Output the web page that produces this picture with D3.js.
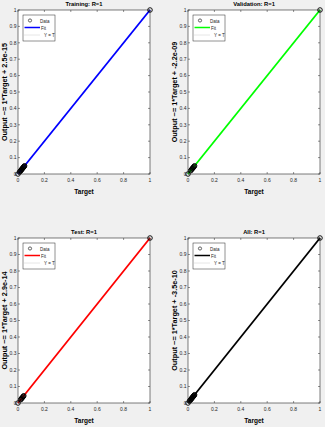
<!DOCTYPE html>
<html>
<head>
<meta charset="utf-8">
<script src="https://cdn.jsdelivr.net/npm/d3@7"></script>
<style>
body { margin: 0; background: #f0f0f0; }
svg { display: block; font-family: "Liberation Sans", Arial, sans-serif; }
</style>
</head>
<body>
<svg id="chart1" width="325" height="427"></svg>
<script>
// panel titles, fit colours and fit equations
var titles = ["Training: R=1", "Validation: R=1", "Test: R=1", "All: R=1"];
var fitColors = ["#0000ff", "#00ff00", "#ff0000", "#000000"];
var offsets = ["2.5e-15", "-2.2e-09", "2.9e-14", "-3.5e-10"];
var slopes = [1, 1, 1, 1];
var ticks = [0, 0.1, 0.2, 0.3, 0.4, 0.5, 0.6, 0.7, 0.8, 0.9, 1];
var xTicks = [0, 0.2, 0.4, 0.6, 0.8, 1];

// targets / outputs (R=1, so outputs follow targets)
var trainTargets = [0, 0.012, 0.016, 0.02, 0.023, 0.026, 0.029, 0.032, 0.035, 0.038, 0.041, 0.044, 0.047, 0.05, 1];
var valTargets = [0, 0.02, 0.025, 0.03, 0.034, 0.038, 0.042, 0.046, 0.05, 1];
var testTargets = [0, 0.02, 0.024, 0.028, 0.032, 0.036, 0.04, 0.044, 1];
var allTargets = [0, 0.012, 0.016, 0.02, 0.023, 0.026, 0.029, 0.032, 0.035, 0.038, 0.041, 0.044, 0.047, 0.05, 1];
var targetSets = [trainTargets, valTargets, testTargets, allTargets];

var svg = d3.select('#chart1');

var panels = [
	{x: 18, y: 10, w: 132, h: 164, lx: 7},
	{x: 188, y: 10, w: 132, h: 164, lx: 176.5},
	{x: 18, y: 238, w: 132, h: 165, lx: 7},
	{x: 188, y: 238, w: 132, h: 165, lx: 176.5}
];

panels.forEach(function (p, k) {
	var g = svg.append("g").attr("transform", "translate(" + p.x + "," + p.y + ")");
	var x = d3.scaleLinear().domain([0, 1]).range([0, p.w]);
	var y = d3.scaleLinear().domain([0, 1]).range([p.h, 0]);

	g.append("rect")
		.attr("width", p.w).attr("height", p.h)
		.style("fill", "white");

	// ticks (inside, all four sides)
	var tl = 2;
	xTicks.forEach(function (t) {
		g.append("line").attr("x1", x(t)).attr("x2", x(t)).attr("y1", p.h).attr("y2", p.h - tl).style("stroke", "#262626").style("stroke-width", 0.5);
		g.append("line").attr("x1", x(t)).attr("x2", x(t)).attr("y1", 0).attr("y2", tl).style("stroke", "#262626").style("stroke-width", 0.5);
		g.append("text").attr("x", x(t)).attr("y", p.h + 7.5)
			.attr("text-anchor", "middle").attr("font-size", "5px").attr("fill", "#262626")
			.text(d3.format("~g")(t));
	});
	ticks.forEach(function (t) {
		g.append("line").attr("y1", y(t)).attr("y2", y(t)).attr("x1", 0).attr("x2", tl).style("stroke", "#262626").style("stroke-width", 0.5);
		g.append("line").attr("y1", y(t)).attr("y2", y(t)).attr("x1", p.w).attr("x2", p.w - tl).style("stroke", "#262626").style("stroke-width", 0.5);
		g.append("text").attr("x", -1.5).attr("y", y(t) + 1.8)
			.attr("text-anchor", "end").attr("font-size", "5px").attr("fill", "#262626")
			.text(d3.format("~g")(t));
	});

	// Y = T dotted
	g.append("line")
		.attr("x1", x(0)).attr("y1", y(0)).attr("x2", x(1)).attr("y2", y(1))
		.style("stroke", "#999").style("stroke-width", 0.6).style("stroke-dasharray", "1,1");

	// fit line
	var off = +offsets[k];
	g.append("line")
		.attr("x1", x(0)).attr("y1", y(slopes[k] * 0 + off))
		.attr("x2", x(1)).attr("y2", y(slopes[k] * 1 + off))
		.style("stroke", fitColors[k]).style("stroke-width", 1.8);

	// data
	g.selectAll("circle.d")
		.data(targetSets[k])
		.enter().append("circle")
		.attr("cx", function (d) { return x(d); })
		.attr("cy", function (d) { return y(d); })
		.attr("r", 2.3)
		.style("fill", "none").style("stroke", "black").style("stroke-width", 0.9);

	// box
	g.append("rect")
		.attr("width", p.w).attr("height", p.h)
		.style("fill", "none").style("stroke", "#262626").style("stroke-width", 0.6);

	// legend
	var lg = g.append("g").attr("transform", "translate(5,5)");
	lg.append("rect").attr("width", 32).attr("height", 26)
		.style("fill", "white").style("stroke", "#262626").style("stroke-width", 0.5);
	lg.append("circle").attr("cx", 7).attr("cy", 5.5).attr("r", 1.6)
		.style("fill", "none").style("stroke", "black").style("stroke-width", 0.6);
	lg.append("line").attr("x1", 1.5).attr("x2", 17).attr("y1", 12.5).attr("y2", 12.5)
		.style("stroke", fitColors[k]).style("stroke-width", 1.5);
	lg.append("line").attr("x1", 1.5).attr("x2", 17).attr("y1", 20).attr("y2", 20)
		.style("stroke", "#999").style("stroke-width", 0.5).style("stroke-dasharray", "1,1");
	["Data", "Fit", "Y = T"].forEach(function (s, i) {
		lg.append("text").attr("x", [17, 18, 21][i]).attr("y", 7.5 + i * 7.3)
			.attr("font-size", "4.5px").attr("fill", "#262626").text(s);
	});

	// title
	g.append("text").attr("x", p.w / 2).attr("y", -4)
		.attr("text-anchor", "middle").attr("font-size", "5.8px").attr("font-weight", "bold")
		.text(titles[k]);

	// x label
	g.append("text").attr("x", p.w / 2).attr("y", p.h + 20)
		.attr("text-anchor", "middle").attr("font-size", "6.5px").attr("font-weight", "bold")
		.text("Target");

	// y label
	svg.append("text")
		.attr("transform", "translate(" + p.lx + "," + (p.y + p.h / 2) + ") rotate(-90)")
		.attr("text-anchor", "middle").attr("font-size", "7.3px").attr("font-weight", "bold")
		.text("Output ~= " + slopes[k] + "*Target + " + offsets[k]);
});
</script>
</body>
</html>
